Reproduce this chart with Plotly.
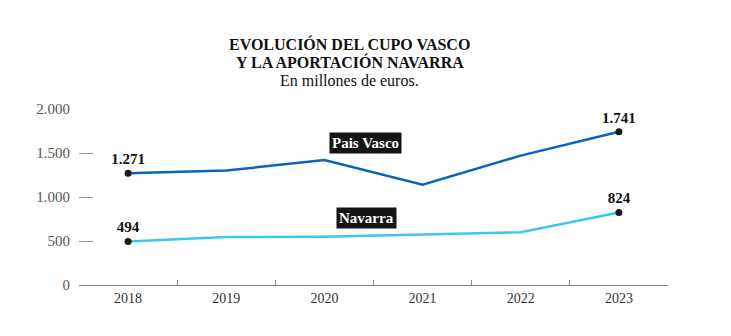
import plotly.graph_objects as go

years = ["2018", "2019", "2020", "2021", "2022", "2023"]
pais_vasco = [1271, 1300, 1420, 1140, 1470, 1741]
navarra = [494, 545, 548, 575, 600, 824]
y_ticks = [0, 500, 1000, 1500, 2000]
y_tick_labels = ["0", "500", "1.000", "1.500", "2.000"]

PV_COLOR = "#0b63bd"
NA_COLOR = "#3cc6f2"
SERIF = "Liberation Serif, DejaVu Serif, serif"

fig = go.Figure()

for vals, color in [(pais_vasco, PV_COLOR), (navarra, NA_COLOR)]:
    fig.add_trace(go.Scatter(
        x=years, y=vals, mode="lines",
        line=dict(color=color, width=2.5),
        hoverinfo="skip", showlegend=False,
    ))
    ends = [0, len(vals) - 1]
    fig.add_trace(go.Scatter(
        x=[years[i] for i in ends], y=[vals[i] for i in ends],
        mode="markers+text",
        marker=dict(color="#1a1a1a", size=7),
        text=["<b>" + f"{vals[i]:,}".replace(",", ".") + "</b>" for i in ends],
        textposition="top center",
        textfont=dict(family=SERIF, size=15, color="#111111"),
        hoverinfo="skip", showlegend=False,
    ))

# series name tags
for name, xpos, ypos in [("Pais Vasco", 2.42, 1614), ("Navarra", 2.43, 761)]:
    fig.add_annotation(
        x=xpos, y=ypos, xref="x", yref="y", text=f"<b>{name}</b>",
        showarrow=False, bgcolor="#141414", borderpad=2,
        font=dict(family=SERIF, size=15, color="white"),
    )

# heading lines, placed individually for tight leading
heading = [
    ("<b>EVOLUCIÓN DEL CUPO VASCO</b>", 16, 1.37),
    ("<b>Y LA APORTACIÓN NAVARRA</b>", 16, 1.268),
    ("En millones de euros.", 16, 1.161),
]
for txt, size, ypos in heading:
    fig.add_annotation(
        x=0.5, y=ypos, xref="paper", yref="paper", yanchor="middle",
        xshift=-24, text=txt, showarrow=False,
        font=dict(family=SERIF, size=size, color="#111111"),
    )

fig.update_layout(
    width=731, height=336,
    margin=dict(l=79, r=63, t=109, b=51),
    paper_bgcolor="white", plot_bgcolor="white",
    separators=",.",
    xaxis=dict(
        type="category", range=[-0.5, 5.5],
        showline=True, linecolor="#888888", linewidth=1,
        ticks="inside", tickson="boundaries", ticklen=5, tickcolor="#888888",
        showgrid=False, zeroline=False,
        tickfont=dict(family=SERIF, size=14, color="#333333"),
    ),
    yaxis=dict(
        range=[0, 2000], tickvals=y_ticks, ticktext=y_tick_labels,
        ticks="inside", ticklen=14, tickcolor="#999999",
        showline=False, showgrid=False, zeroline=False,
        ticklabelstandoff=8,
        tickfont=dict(family=SERIF, size=15, color="#555555"),
    ),
)

fig.write_html("out.html")
